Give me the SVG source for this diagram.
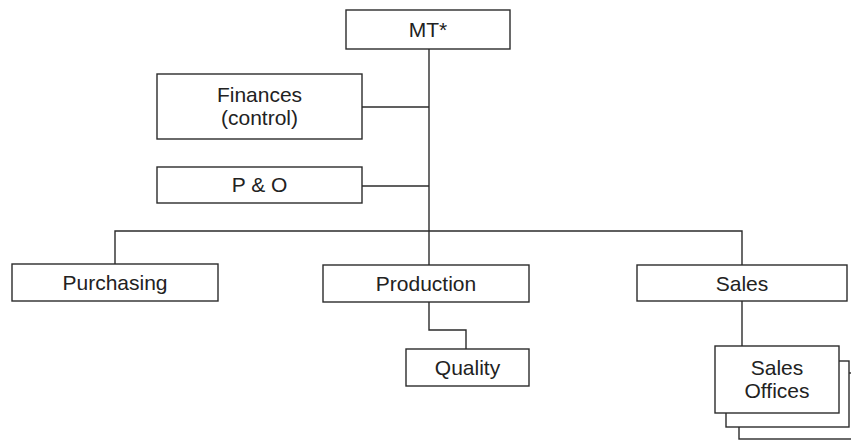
<svg xmlns="http://www.w3.org/2000/svg" width="851" height="440" viewBox="0 0 851 440">
  <style>
    .box { fill: #ffffff; stroke: #2b2b2b; stroke-width: 1.4; }
    .link { fill: none; stroke: #2b2b2b; stroke-width: 1.4; }
    .label { font-family: "Liberation Sans", Arial, sans-serif; font-size: 21px; fill: #222222; text-anchor: middle; }
  </style>
  <rect width="851" height="440" fill="#ffffff"/>

  <!-- connectors -->
  <g id="connectors">
    <path class="link" d="M429 49 V265"/>
    <path class="link" d="M362 107 H429"/>
    <path class="link" d="M362 186 H429"/>
    <path class="link" d="M115 264 V231 H742 V265"/>
    <path class="link" d="M429 302 V330 H466 V349"/>
    <path class="link" d="M742 301 V346"/>
  </g>

  <g id="mt">
    <rect class="box" x="346" y="10" width="164" height="39"/>
    <text class="label" x="428" y="37">MT*</text>
  </g>

  <g id="finances">
    <rect class="box" x="157" y="74" width="205" height="65"/>
    <text class="label" x="259.5" y="102">Finances</text>
    <text class="label" x="259.5" y="125">(control)</text>
  </g>

  <g id="p-and-o">
    <rect class="box" x="157" y="167" width="205" height="36"/>
    <text class="label" x="259.5" y="192">P &amp; O</text>
  </g>

  <g id="purchasing">
    <rect class="box" x="12" y="264" width="206" height="37"/>
    <text class="label" x="115" y="290">Purchasing</text>
  </g>

  <g id="production">
    <rect class="box" x="323" y="265" width="206" height="37"/>
    <text class="label" x="426" y="291">Production</text>
  </g>

  <g id="sales">
    <rect class="box" x="637" y="265" width="210" height="36"/>
    <text class="label" x="742" y="291">Sales</text>
  </g>

  <g id="quality">
    <rect class="box" x="406" y="349" width="123" height="37"/>
    <text class="label" x="467.5" y="375">Quality</text>
  </g>

  <g id="sales-offices">
    <rect class="box" x="739" y="373" width="125" height="66"/>
    <rect class="box" x="726" y="361" width="123" height="66"/>
    <rect class="box" x="715" y="346" width="124" height="67"/>
    <text class="label" x="777" y="375">Sales</text>
    <text class="label" x="777" y="398">Offices</text>
  </g>
</svg>
